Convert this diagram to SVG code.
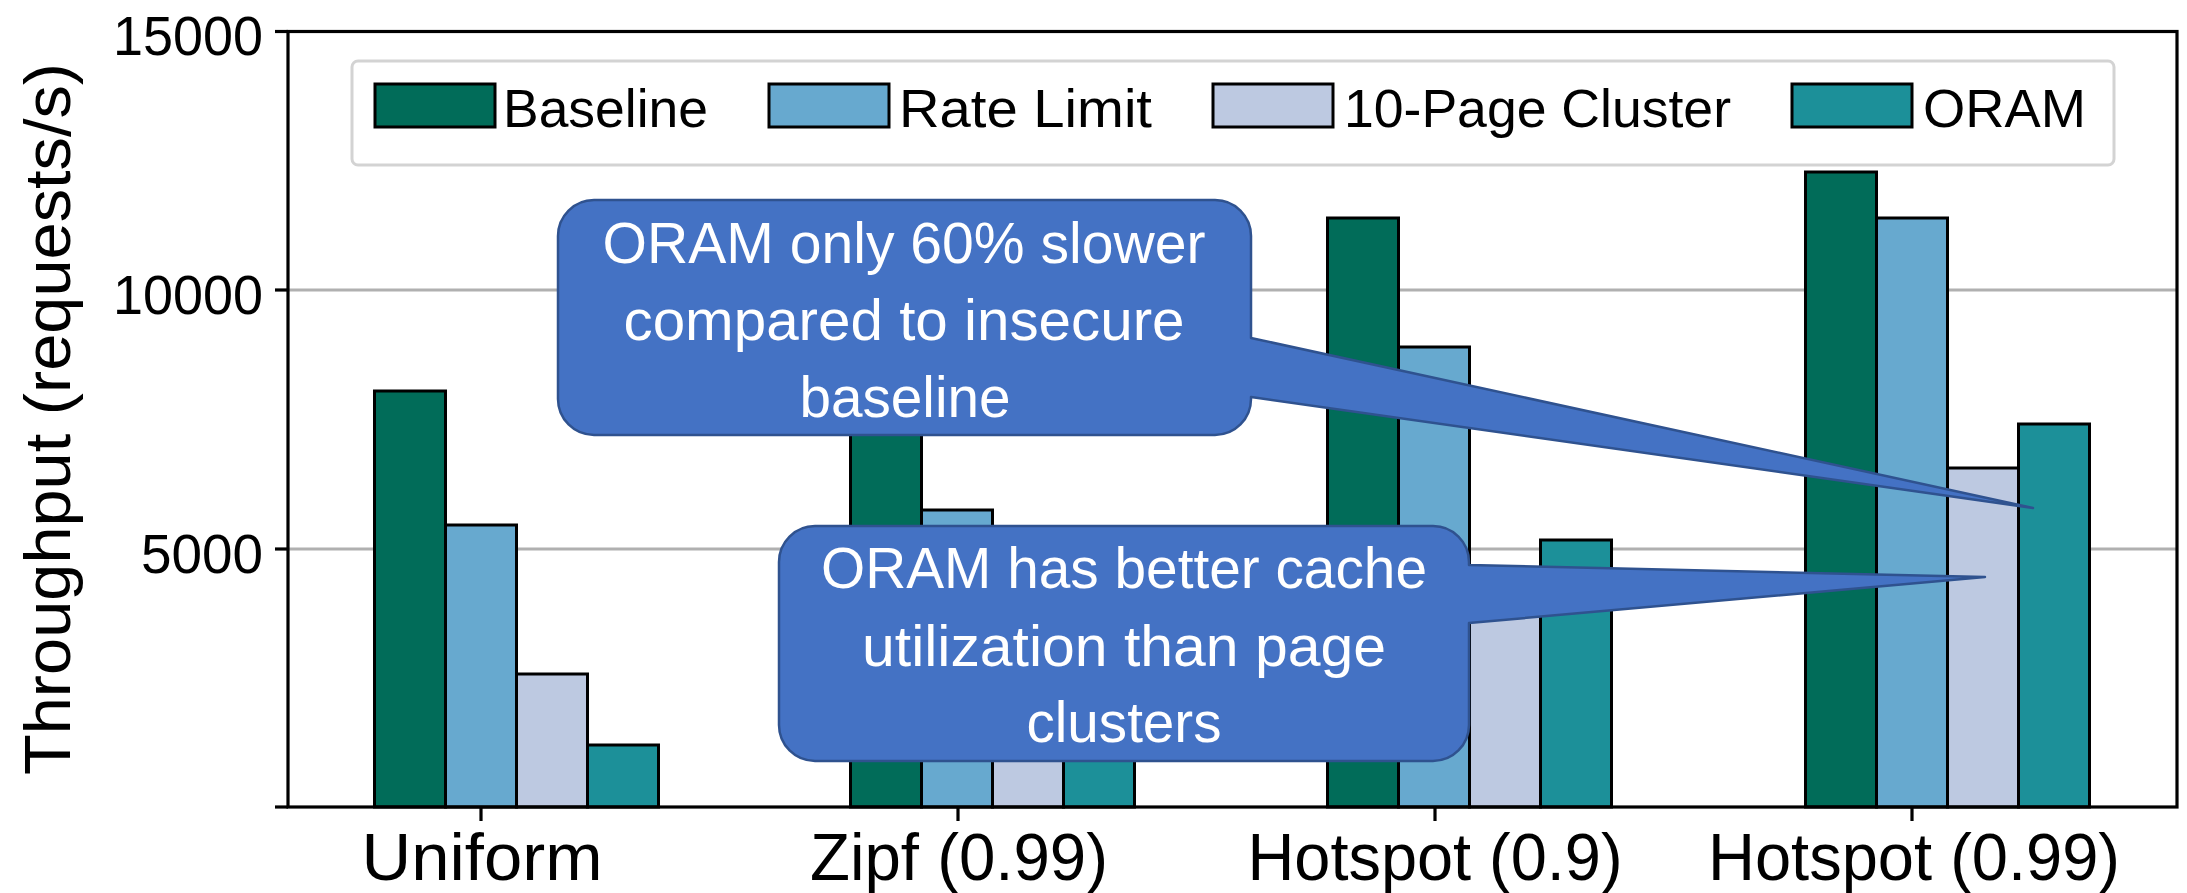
<svg xmlns="http://www.w3.org/2000/svg" width="2187" height="893" viewBox="0 0 2187 893">
  <style>
    text { font-family: "Liberation Sans", Arial, sans-serif; }
    .lbl { fill: #000; }
    .tick { font-size: 56px; text-anchor: end; }
    .xlab { font-size: 66px; text-anchor: middle; }
    .leg { font-size: 54px; }
    .grid { stroke: #b0b0b0; stroke-width: 3; fill: none; }
    .frame { stroke: #000; stroke-width: 3.2; fill: none; }
    .bar { stroke: #000; stroke-width: 3; }
    .b0 { fill: #016c59; }
    .b1 { fill: #67a9cf; }
    .b2 { fill: #bdc9e1; }
    .b3 { fill: #1c9099; }
    .callout { fill: #4472c4; stroke: #2f528f; stroke-width: 2.5; stroke-linejoin: round; }
    .ctext { fill: #fff; font-size: 57px; text-anchor: middle; }
  </style>

  <rect width="2187" height="893" fill="#fff"/>

  <!-- horizontal grid -->
  <g id="grid">
    <line class="grid" x1="288" y1="290" x2="2177" y2="290"/>
    <line class="grid" x1="288" y1="549" x2="2177" y2="549"/>
  </g>

  <!-- bars: Baseline, Rate Limit, 10-Page Cluster, ORAM -->
  <g id="group-uniform">
    <rect class="bar b0" x="374.5" y="391" width="71" height="416"/>
    <rect class="bar b1" x="445.5" y="525" width="71" height="282"/>
    <rect class="bar b2" x="516.5" y="674" width="71" height="133"/>
    <rect class="bar b3" x="587.5" y="745" width="71" height="62"/>
  </g>
  <g id="group-zipf">
    <rect class="bar b0" x="850.5" y="380" width="71" height="427"/>
    <rect class="bar b1" x="921.5" y="510" width="71" height="297"/>
    <rect class="bar b2" x="992.5" y="600" width="71" height="207"/>
    <rect class="bar b3" x="1063.5" y="640" width="71" height="167"/>
  </g>
  <g id="group-hotspot09">
    <rect class="bar b0" x="1327.5" y="218" width="71" height="589"/>
    <rect class="bar b1" x="1398.5" y="347" width="71" height="460"/>
    <rect class="bar b2" x="1469.5" y="595" width="71" height="212"/>
    <rect class="bar b3" x="1540.5" y="540" width="71" height="267"/>
  </g>
  <g id="group-hotspot099">
    <rect class="bar b0" x="1805.5" y="172" width="71" height="635"/>
    <rect class="bar b1" x="1876.5" y="218" width="71" height="589"/>
    <rect class="bar b2" x="1947.5" y="468" width="71" height="339"/>
    <rect class="bar b3" x="2018.5" y="424" width="71" height="383"/>
  </g>

  <!-- axes frame and ticks -->
  <g id="axes">
    <rect class="frame" x="288" y="31.5" width="1889" height="775.5"/>
    <line class="frame" x1="275" y1="31.5" x2="288" y2="31.5"/>
    <line class="frame" x1="275" y1="290" x2="288" y2="290"/>
    <line class="frame" x1="275" y1="549" x2="288" y2="549"/>
    <line class="frame" x1="275" y1="807" x2="288" y2="807"/>
    <line class="frame" x1="481" y1="807" x2="481" y2="821"/>
    <line class="frame" x1="958" y1="807" x2="958" y2="821"/>
    <line class="frame" x1="1435" y1="807" x2="1435" y2="821"/>
    <line class="frame" x1="1912" y1="807" x2="1912" y2="821"/>
    <text class="lbl tick" x="263" y="55" textLength="150" lengthAdjust="spacingAndGlyphs">15000</text>
    <text class="lbl tick" x="263" y="314" textLength="150" lengthAdjust="spacingAndGlyphs">10000</text>
    <text class="lbl tick" x="263" y="573" textLength="122" lengthAdjust="spacingAndGlyphs">5000</text>
    <text class="lbl xlab" x="482" y="880" textLength="241" lengthAdjust="spacingAndGlyphs">Uniform</text>
    <text class="lbl xlab" x="959" y="880" textLength="298" lengthAdjust="spacingAndGlyphs">Zipf (0.99)</text>
    <text class="lbl xlab" x="1435" y="880" textLength="375" lengthAdjust="spacingAndGlyphs">Hotspot (0.9)</text>
    <text class="lbl xlab" x="1914" y="880" textLength="412" lengthAdjust="spacingAndGlyphs">Hotspot (0.99)</text>
    <text class="lbl" transform="translate(70,419) rotate(-90)" text-anchor="middle" font-size="65" textLength="712" lengthAdjust="spacingAndGlyphs">Throughput (requests/s)</text>
  </g>

  <!-- legend -->
  <g id="legend">
    <rect x="352" y="61" width="1762" height="104" rx="6" fill="#fff" stroke="#d3d3d3" stroke-width="3"/>
    <rect class="bar b0" x="375" y="84" width="120" height="43"/>
    <text class="lbl leg" x="503" y="127" textLength="205" lengthAdjust="spacingAndGlyphs">Baseline</text>
    <rect class="bar b1" x="769" y="84" width="120" height="43"/>
    <text class="lbl leg" x="899" y="127" textLength="253" lengthAdjust="spacingAndGlyphs">Rate Limit</text>
    <rect class="bar b2" x="1213" y="84" width="120" height="43"/>
    <text class="lbl leg" x="1344" y="127" textLength="387" lengthAdjust="spacingAndGlyphs">10-Page Cluster</text>
    <rect class="bar b3" x="1792" y="84" width="120" height="43"/>
    <text class="lbl leg" x="1923" y="127" textLength="163" lengthAdjust="spacingAndGlyphs">ORAM</text>
  </g>

  <!-- annotation callouts -->
  <g id="callout-slowdown">
    <path class="callout" d="M594,200 H1215 A36,36 0 0 1 1251,236 V338 L2033,508 L1251,397 V399 A36,36 0 0 1 1215,435 H594 A36,36 0 0 1 558,399 V236 A36,36 0 0 1 594,200 Z"/>
    <text class="ctext" x="904" y="263" textLength="603" lengthAdjust="spacingAndGlyphs">ORAM only 60% slower</text>
    <text class="ctext" x="904" y="340" textLength="561" lengthAdjust="spacingAndGlyphs">compared to insecure</text>
    <text class="ctext" x="905" y="417" textLength="211" lengthAdjust="spacingAndGlyphs">baseline</text>
  </g>
  <g id="callout-cache">
    <path class="callout" d="M815,526 H1433 A36,36 0 0 1 1469,562 V565 L1985,577 L1469,623 V725 A36,36 0 0 1 1433,761 H815 A36,36 0 0 1 779,725 V562 A36,36 0 0 1 815,526 Z"/>
    <text class="ctext" x="1124" y="588" textLength="606" lengthAdjust="spacingAndGlyphs">ORAM has better cache</text>
    <text class="ctext" x="1124" y="666" textLength="524" lengthAdjust="spacingAndGlyphs">utilization than page</text>
    <text class="ctext" x="1124" y="742" textLength="195" lengthAdjust="spacingAndGlyphs">clusters</text>
  </g>
</svg>
